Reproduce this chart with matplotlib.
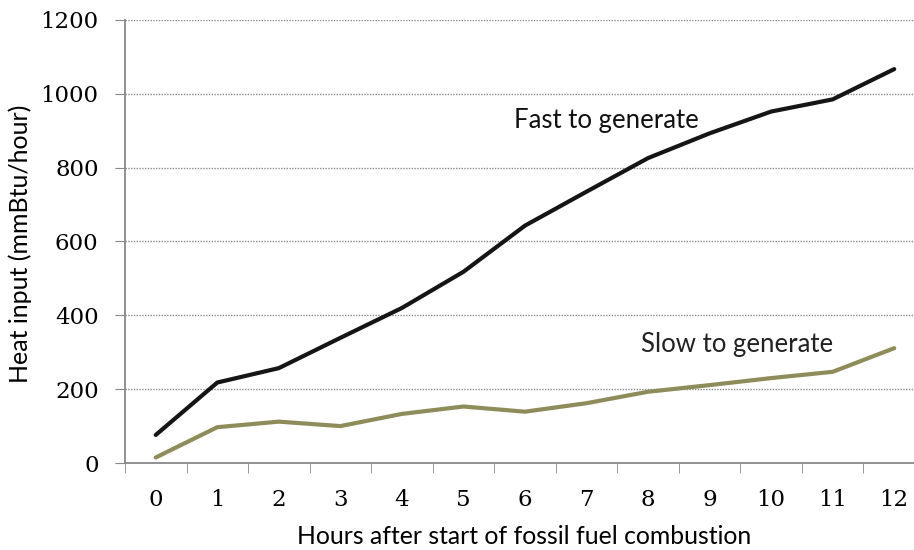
import matplotlib
matplotlib.use("Agg")
import matplotlib.pyplot as plt

hours = ["0", "1", "2", "3", "4", "5", "6", "7", "8", "9", "10", "11", "12"]
fast = [76, 218, 257, 339, 420, 518, 643, 735, 826, 893, 952, 985, 1067]
slow = [15, 97, 112, 100, 133, 153, 139, 162, 193, 211, 230, 247, 311]
yticks = [0, 200, 400, 600, 800, 1000, 1200]

fig = plt.figure(figsize=(9.14, 5.5), dpi=100)
ax = fig.add_axes([125/914, 1-463/550, 800/914, 443/550])

x = list(range(len(hours)))
ax.plot(x, fast, color="#151515", lw=3.0, solid_capstyle="round", zorder=3)
ax.plot(x, slow, color="#8f8c5c", lw=3.0, solid_capstyle="round", zorder=3)

ax.set_xlim(-0.5, len(hours) - 0.5)
ax.set_ylim(0, 1200)
ax.set_yticks(yticks)
ax.set_yticklabels([str(v) for v in yticks], family="DejaVu Serif", fontsize=16.5)
ax.set_xticks(x)
ax.set_xticklabels(hours, family="DejaVu Serif", fontsize=16.5)
ax.set_xticks([i - 0.5 for i in range(len(hours) + 1)], minor=True)
ax.tick_params(axis="x", which="major", length=0, pad=19)
ax.tick_params(axis="x", which="minor", length=7, color="#888888", direction="out")
ax.tick_params(axis="y", length=7, color="#888888", direction="out", pad=12)

for v in yticks[1:]:
    ax.axhline(v, color="#8a8a8a", lw=1.0, ls=(0, (1, 1)), zorder=1)

for s in ["top", "right"]:
    ax.spines[s].set_visible(False)
ax.spines["left"].set_color("#888888")
ax.spines["bottom"].set_color("#888888")
ax.spines["left"].set_linewidth(1.3)
ax.spines["bottom"].set_linewidth(1.3)

ax.text(7.32, 929, "Fast to generate", family="Lato", fontsize=18.5, ha="center", va="center", color="#111111")
ax.text(9.44, 320, "Slow to generate", family="Lato", fontsize=18.5, ha="center", va="center", color="#222222")

fig.text(524/914, 1-536/550, "Hours after start of fossil fuel combustion", family="Lato", fontsize=17.8, ha="center", va="center")
fig.text(20/914, 1-244/550, "Heat input (mmBtu/hour)", family="Lato", fontsize=18, ha="center", va="center", rotation=90)

fig.savefig("out.png", dpi=100)
